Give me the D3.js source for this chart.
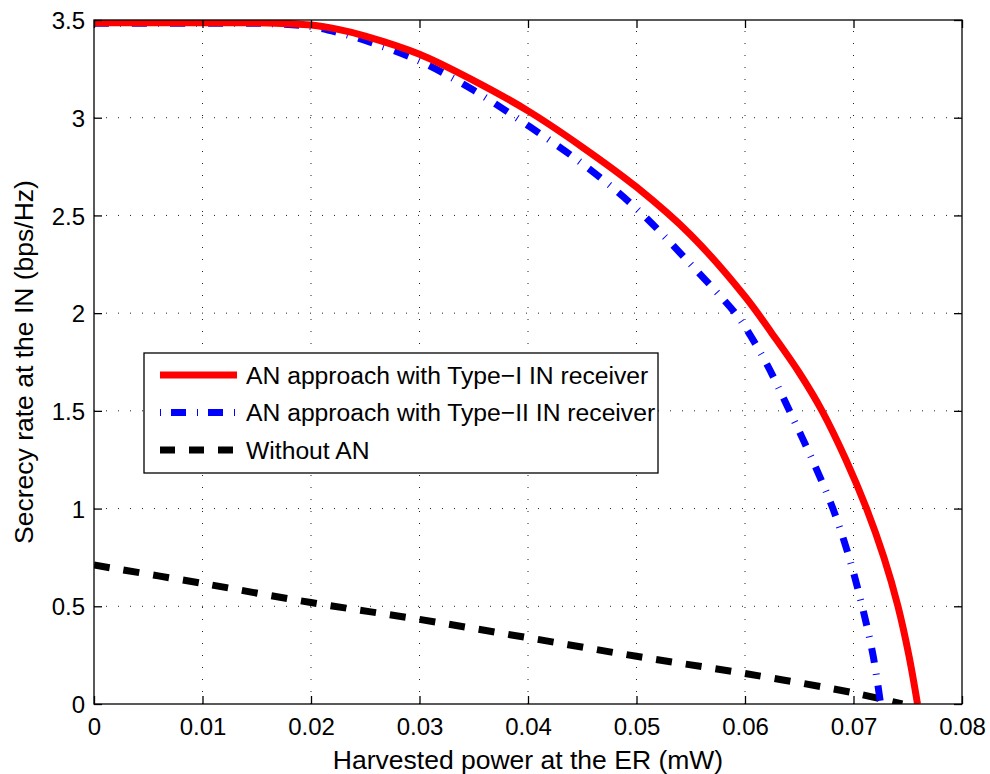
<!DOCTYPE html>
<html>
<head>
<meta charset="utf-8">
<script src="https://cdn.jsdelivr.net/npm/d3@7"></script>
<style>
body { margin: 0; background: #fff; }
#chart text { font-family: "Liberation Sans", Arial, sans-serif; fill: #000; }
</style>
</head>
<body>
<div id="chart"></div>
<script>
// values
var xTicks = [0, 0.01, 0.02, 0.03, 0.04, 0.05, 0.06, 0.07, 0.08];
var xTickLabels = ['0', '0.01', '0.02', '0.03', '0.04', '0.05', '0.06', '0.07', '0.08'];
var yTicks = [0, 0.5, 1, 1.5, 2, 2.5, 3, 3.5];
var yTickLabels = ['0', '0.5', '1', '1.5', '2', '2.5', '3', '3.5'];

// [harvested power (mW), secrecy rate (bps/Hz)]
var typeIData = [[0, 3.486], [0.01, 3.486], [0.016, 3.485], [0.02, 3.474], [0.0225, 3.452], [0.025, 3.418],
    [0.03, 3.325], [0.035, 3.19], [0.04, 3.035], [0.045, 2.85], [0.05, 2.645], [0.055, 2.40], [0.06, 2.085],
    [0.0625, 1.895], [0.065, 1.695], [0.0671, 1.5], [0.0693, 1.25], [0.0712, 1.0], [0.0728, 0.75],
    [0.0741, 0.5], [0.0751, 0.25], [0.0759, 0]];
var typeIIData = [[0, 3.483], [0.01, 3.483], [0.016, 3.482], [0.02, 3.466], [0.0225, 3.436], [0.025, 3.395],
    [0.03, 3.29], [0.035, 3.14], [0.04, 2.96], [0.045, 2.765], [0.05, 2.535], [0.055, 2.25], [0.0591, 2.0],
    [0.06, 1.93], [0.062, 1.74], [0.0641, 1.5], [0.0662, 1.25], [0.0681, 1.0], [0.0696, 0.75],
    [0.0708, 0.5], [0.0718, 0.25], [0.0725, 0]];
var withoutAnData = [[0, 0.711], [0.01, 0.617], [0.02, 0.519], [0.03, 0.433], [0.04, 0.339], [0.05, 0.244],
    [0.06, 0.156], [0.07, 0.057], [0.0745, 0]];

var seriesNames = ['AN approach with Type\u2212I IN receiver', 'AN approach with Type\u2212II IN receiver', 'Without AN'];
var xLabel = 'Harvested power at the ER (mW)';
var yLabel = 'Secrecy rate at the IN (bps/Hz)';

var CHART = CHART || {};
CHART.secrecyPlot = function (options) {

    var defaultVal = {
        width: 990,
        height: 774,
        margin: { top: 20, right: 28, bottom: 70, left: 94 },
        xDomain: [0, 0.08],
        yDomain: [0, 3.5],
        tickSize: 8,
        lineWidth: 7,
        tickFont: 24,
        labelFont: 26.5
    };

    function Plot(options) {
        var self = this;
        self.d3Ele = d3.select(options.element);
        self.settings = Object.assign({}, defaultVal, options);
        self.series = [
            { name: seriesNames[0], data: typeIData, color: '#ff0000', dash: null },
            { name: seriesNames[1], data: typeIIData, color: '#0000ff', dash: '15,11,1,11' },
            { name: seriesNames[2], data: withoutAnData, color: '#000000', dash: '16,14' }
        ];
    }

    Plot.prototype = {
        init: function () {
            this._initChart();
            this._drawGrid();
            this._drawLines();
            this._drawAxes();
            this._drawLegend();
        },
        _initChart: function () {
            var self = this, s = self.settings;
            self.w = s.width - s.margin.left - s.margin.right;
            self.h = s.height - s.margin.top - s.margin.bottom;
            self.svg = self.d3Ele.append('svg')
                .attr('width', s.width).attr('height', s.height);
            self.chart = self.svg.append('g')
                .attr('transform', 'translate(' + s.margin.left + ',' + s.margin.top + ')');
            self.xScale = d3.scaleLinear().domain(s.xDomain).range([0, self.w]);
            self.yScale = d3.scaleLinear().domain(s.yDomain).range([self.h, 0]);
            self.svg.append('defs').append('clipPath').attr('id', 'plotClip')
                .append('rect').attr('width', self.w).attr('height', self.h);
        },
        _drawGrid: function () {
            var self = this;
            var g = self.chart.append('g').attr('class', 'grid')
                .attr('stroke', '#222').attr('stroke-width', 1).attr('stroke-dasharray', '1,11');
            g.selectAll('.vgrid').data(xTicks.slice(1, -1)).enter().append('line')
                .attr('x1', function (d) { return self.xScale(d); })
                .attr('x2', function (d) { return self.xScale(d); })
                .attr('y1', self.h).attr('y2', 0);
            g.selectAll('.hgrid').data(yTicks.slice(1, -1)).enter().append('line')
                .attr('y1', function (d) { return self.yScale(d); })
                .attr('y2', function (d) { return self.yScale(d); })
                .attr('x1', 0).attr('x2', self.w);
        },
        _drawLines: function () {
            var self = this;
            var line = d3.line()
                .x(function (d) { return self.xScale(d[0]); })
                .y(function (d) { return self.yScale(d[1]); })
                .curve(d3.curveCatmullRom.alpha(0.5));
            var g = self.chart.append('g').attr('clip-path', 'url(#plotClip)');
            // black first, red on top as in the reference
            [self.series[2], self.series[1], self.series[0]].forEach(function (sr) {
                g.append('path').datum(sr.data)
                    .attr('d', line)
                    .attr('fill', 'none')
                    .attr('stroke', sr.color)
                    .attr('stroke-width', self.settings.lineWidth)
                    .attr('stroke-dasharray', sr.dash);
            });
        },
        _drawAxes: function () {
            var self = this, s = self.settings, t = s.tickSize;
            var ax = self.chart.append('g').attr('class', 'axes');
            ax.append('rect').attr('width', self.w).attr('height', self.h)
                .attr('fill', 'none').attr('stroke', '#000').attr('stroke-width', 1.3);

            var xAxisB = d3.axisBottom(self.xScale).tickValues(xTicks).tickSizeInner(-t).tickSizeOuter(0)
                .tickPadding(14).tickFormat(function (d, i) { return xTickLabels[i]; });
            var xAxisT = d3.axisTop(self.xScale).tickValues(xTicks).tickSizeInner(-t).tickSizeOuter(0)
                .tickFormat('');
            var yAxisL = d3.axisLeft(self.yScale).tickValues(yTicks).tickSizeInner(-t).tickSizeOuter(0)
                .tickPadding(9).tickFormat(function (d, i) { return yTickLabels[i]; });
            var yAxisR = d3.axisRight(self.yScale).tickValues(yTicks).tickSizeInner(-t).tickSizeOuter(0)
                .tickFormat('');

            var gb = ax.append('g').attr('transform', 'translate(0,' + self.h + ')').call(xAxisB);
            var gt = ax.append('g').call(xAxisT);
            var gl = ax.append('g').call(yAxisL);
            var gr = ax.append('g').attr('transform', 'translate(' + self.w + ',0)').call(yAxisR);
            [gb, gt, gl, gr].forEach(function (g) {
                g.select('.domain').remove();
                g.selectAll('.tick line').attr('stroke', '#000').attr('stroke-width', 1.3);
                g.selectAll('.tick text').style('font-size', s.tickFont + 'px');
            });
            gb.selectAll('.tick text').attr('dy', '0.71em');
            gl.selectAll('.tick text').attr('dy', '0.36em');

            self.svg.append('text')
                .attr('x', s.margin.left + self.w / 2).attr('y', 769)
                .attr('text-anchor', 'middle').style('font-size', s.labelFont + 'px').text(xLabel);
            self.svg.append('text')
                .attr('transform', 'translate(33,' + (s.margin.top + self.h / 2) + ') rotate(-90)')
                .attr('text-anchor', 'middle').style('font-size', s.labelFont + 'px').text(yLabel);
        },
        _drawLegend: function () {
            var self = this;
            var lg = self.svg.append('g').attr('class', 'legend').attr('transform', 'translate(144,353)');
            lg.append('rect').attr('width', 514).attr('height', 120)
                .attr('fill', '#fff').attr('stroke', '#000').attr('stroke-width', 1.3);
            var dashes = [null, '1,10,15,11', '15,14'];
            var item = lg.selectAll('.item').data(self.series).enter().append('g')
                .attr('transform', function (d, i) { return 'translate(0,' + (22 + i * 37.5) + ')'; });
            item.append('line').attr('x1', 16).attr('x2', 93).attr('y1', 0).attr('y2', 0)
                .attr('stroke', function (d) { return d.color; })
                .attr('stroke-width', self.settings.lineWidth)
                .attr('stroke-dasharray', function (d, i) { return dashes[i]; });
            item.append('text').attr('x', 102).attr('y', 0).attr('dy', '0.36em')
                .style('font-size', '24.7px').text(function (d) { return d.name; });
        }
    };

    var plot = new Plot(options);
    plot.init();
    return { options: plot.settings };
};

CHART.secrecyPlot({ element: '#chart' });
</script>
</body>
</html>
